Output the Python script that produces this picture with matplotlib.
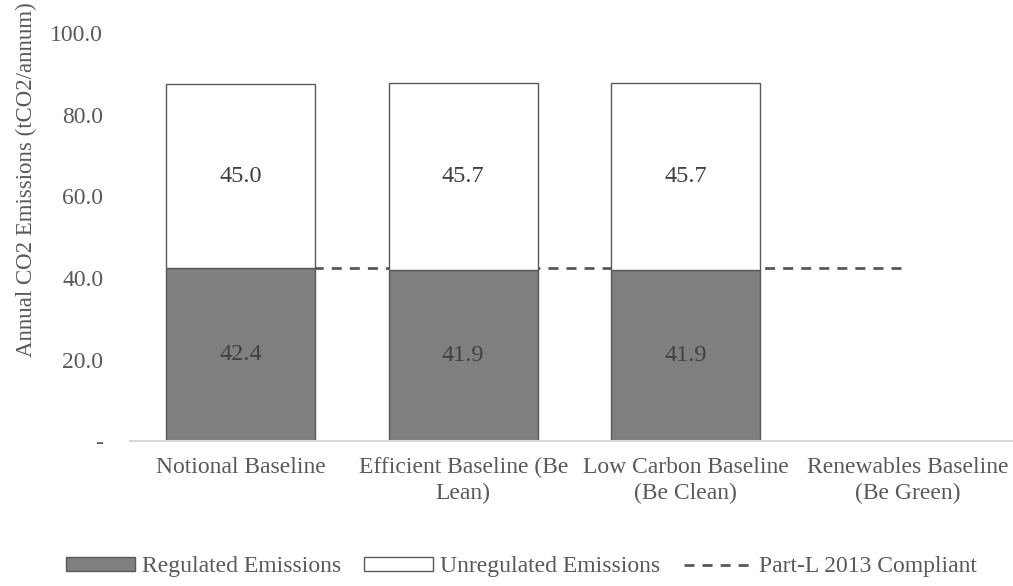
import matplotlib.pyplot as plt
from matplotlib.patches import Patch
from matplotlib.lines import Line2D
import numpy as np

# stacked CO2 emissions per baseline stage
categories = ['Notional Baseline', 'Efficient Baseline (Be\nLean)',
              'Low Carbon Baseline\n(Be Clean)', 'Renewables Baseline\n(Be Green)']
regulated = [42.4, 41.9, 41.9, 0.0]
unregulated = [45.0, 45.7, 45.7, 0.0]
part_l = [42.4, 42.4, 42.4, 42.4]
yticks = [0, 20, 40, 60, 80, 100]
ytick_labels = ['-', '20.0', '40.0', '60.0', '80.0', '100.0']

plt.rcParams['font.family'] = ['Liberation Serif', 'DejaVu Serif']
plt.rcParams['font.size'] = 17

fig = plt.figure(figsize=(10.13, 5.86), dpi=100)
ax = fig.add_axes([0.128, 0.247, 0.878, 0.697])

x = np.arange(len(categories))
w = 0.67
edge = '#595959'
txt = '#404040'
dash = (0, (3.6, 2.9))

ax.plot(x, part_l, color=edge, linestyle=dash, linewidth=2, zorder=1)
ax.bar(x, regulated, w, color='#7f7f7f', edgecolor=edge, linewidth=1.0, zorder=2)
ax.bar(x, unregulated, w, bottom=regulated, color='white', edgecolor=edge,
       linewidth=1.0, zorder=2)

for i in range(len(categories)):
    if regulated[i] > 0:
        ax.text(x[i], regulated[i] / 2, f'{regulated[i]:.1f}', ha='center',
                va='center', color=txt, fontsize=17.5, zorder=3)
    if unregulated[i] > 0:
        ax.text(x[i], regulated[i] + unregulated[i] / 2, f'{unregulated[i]:.1f}',
                ha='center', va='center', color=txt, fontsize=17.5, zorder=3)

ax.set_xlim(-0.5, len(categories) - 0.5)
ax.set_ylim(0, 100)
ax.set_yticks(yticks)
ax.set_yticklabels(ytick_labels)
ax.set_xticks(x)
ax.set_xticklabels(categories, linespacing=1.3)
ax.tick_params(axis='both', length=0, colors='#595959', labelsize=17)
ax.tick_params(axis='y', pad=19)
ax.tick_params(axis='x', pad=11)
for s in ['top', 'right', 'left']:
    ax.spines[s].set_visible(False)
ax.spines['bottom'].set_color('#d9d9d9')
ax.spines['bottom'].set_linewidth(1.5)
ax.set_ylabel('Annual CO2 Emissions (tCO2/annum)', color='#595959', fontsize=16.5)
ax.yaxis.set_label_coords(-0.104, 0.64)

handles = [Patch(facecolor='#7f7f7f', edgecolor=edge, label='Regulated Emissions'),
           Patch(facecolor='white', edgecolor=edge, label='Unregulated Emissions'),
           Line2D([0], [0], color=edge, linestyle=dash, linewidth=2,
                  label='Part-L 2013 Compliant')]
leg = fig.legend(handles=handles, loc='center', bbox_to_anchor=(0.515, 0.033), ncol=3,
                 frameon=False, fontsize=17, handlelength=2.9, handleheight=0.5,
                 columnspacing=1.0, handletextpad=0.3)
for t in leg.get_texts():
    t.set_color('#595959')

fig.savefig('out.png', dpi=100)
